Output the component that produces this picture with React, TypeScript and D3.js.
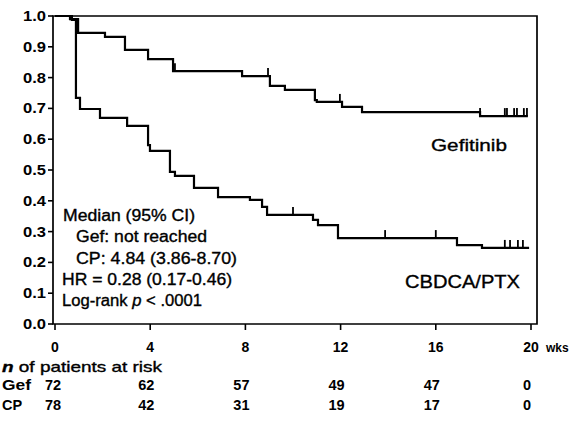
import React from "react";
import * as d3 from "d3";

// ---- data ----
const gefStepTimes = [0.63, 0.97, 2.1, 2.94, 3.91, 4.96, 7.86, 9.03, 9.66, 10.92, 11.0, 12.06, 12.9, 17.86];
const gefStepSurv = [0.99, 0.945, 0.932, 0.89, 0.86, 0.821, 0.805, 0.773, 0.76, 0.727, 0.721, 0.705, 0.688, 0.675];
const gefEnd = 19.87;
const gefCensorTimes = [5.04, 8.95, 11.97, 17.86, 18.9, 18.99, 19.29, 19.41, 19.7, 19.83];

const cpStepTimes = [0.71, 0.88, 1.05, 1.89, 3.03, 3.91, 3.99, 4.83, 5.04, 5.84, 6.85, 8.19, 8.7, 8.91, 10.84, 11.05, 11.89, 16.89, 17.94];
const cpStepSurv = [0.987, 0.734, 0.698, 0.669, 0.643, 0.581, 0.562, 0.494, 0.481, 0.442, 0.412, 0.403, 0.38, 0.354, 0.338, 0.321, 0.279, 0.256, 0.247];
const cpEnd = 19.92;
const cpCensorTimes = [10.0, 13.87, 16.0, 18.9, 19.12, 19.45, 19.66];

const yTicks = [0, 0.1, 0.2, 0.3, 0.4, 0.5, 0.6, 0.7, 0.8, 0.9, 1.0];
const xTicks = [0, 4, 8, 12, 16, 20];
const riskTimes = [0, 4, 8, 12, 16, 20];
const gefRisk = [72, 62, 57, 49, 47, 0];
const cpRisk = [78, 42, 31, 19, 17, 0];

const annotationLines = [
  "Median (95% CI)",
  "Gef: not reached",
  "CP: 4.84 (3.86-8.70)",
  "HR = 0.28 (0.17-0.46)",
];

const FONT = "'Liberation Sans', Arial, sans-serif";

export default function App() {
  const left = 53;
  const right = 537;
  const top = 16;
  const bottom = 324;
  const x = d3.scaleLinear().domain([0, 20]).range([55, 531]);
  const y = d3.scaleLinear().domain([0, 1]).range([bottom, top]);

  const line = d3
    .line<[number, number]>()
    .x((d) => x(d[0]))
    .y((d) => y(d[1]))
    .curve(d3.curveStepAfter);

  const buildPts = (ts: number[], ss: number[], end: number): [number, number][] => {
    const pts: [number, number][] = [[0, 1]];
    ts.forEach((t, i) => pts.push([t, ss[i]]));
    pts.push([end, ss[ss.length - 1]]);
    return pts;
  };
  const survAt = (ts: number[], ss: number[], t: number) => {
    let s = 1;
    ts.forEach((tt, i) => {
      if (tt <= t + 1e-9) s = ss[i];
    });
    return s;
  };

  const gefPts = buildPts(gefStepTimes, gefStepSurv, gefEnd);
  const cpPts = buildPts(cpStepTimes, cpStepSurv, cpEnd);

  const censorTicks = (ts: number[], ss: number[], cs: number[], key: string) =>
    cs.map((t, i) => {
      const s = survAt(ts, ss, t);
      return (
        <line
          key={key + i}
          x1={x(t)}
          x2={x(t)}
          y1={y(s)}
          y2={y(s) - 8}
          stroke="#000"
          strokeWidth={1.8}
        />
      );
    });

  const annBase = 221;
  const annStep = 21.3;
  const annX = [63, 76, 76, 62];
  const annW = [132, 131, 161, 170];
  const ink = { stroke: "#000", strokeWidth: 0.35 };

  return (
    <svg
      width={576}
      height={421}
      style={{ position: "absolute", left: 0, top: 0, background: "#fff" }}
      fontFamily={FONT}
    >
      <rect x={0} y={0} width={576} height={421} fill="#fff" />
      {/* frame */}
      <path
        d={`M${left},${top} L${right},${top} L${right},${bottom} L${left},${bottom} Z`}
        fill="none"
        stroke="#000"
        strokeWidth={1.7}
      />
      {/* y ticks */}
      {yTicks.map((v) => (
        <g key={"y" + v}>
          <line x1={left - 5} x2={left} y1={y(v)} y2={y(v)} stroke="#000" strokeWidth={1.6} />
          <text
            x={46}
            y={y(v) + 5}
            textAnchor="end"
            fontSize={14}
            fontWeight="bold"
            textLength={23}
            lengthAdjust="spacingAndGlyphs"
          >
            {v.toFixed(1)}
          </text>
        </g>
      ))}
      {/* x ticks */}
      {xTicks.map((v) => (
        <g key={"x" + v}>
          <line x1={x(v)} x2={x(v)} y1={bottom} y2={bottom + 6} stroke="#000" strokeWidth={1.6} />
          <text x={x(v)} y={352} textAnchor="middle" fontSize={14} fontWeight="bold">
            {v}
          </text>
        </g>
      ))}
      <text x={546} y={352} fontSize={12} fontWeight="bold">
        wks
      </text>

      {/* curves */}
      <path d={line(gefPts) || ""} fill="none" stroke="#000" strokeWidth={2.2} />
      <path d={line(cpPts) || ""} fill="none" stroke="#000" strokeWidth={2.2} />
      {censorTicks(gefStepTimes, gefStepSurv, gefCensorTimes, "g")}
      {censorTicks(cpStepTimes, cpStepSurv, cpCensorTimes, "c")}

      {/* curve labels */}
      <text x={431} y={151} fontSize={17} textLength={76} lengthAdjust="spacingAndGlyphs" {...ink}>
        Gefitinib
      </text>
      <text x={405} y={288} fontSize={18} textLength={115} lengthAdjust="spacingAndGlyphs" {...ink}>
        CBDCA/PTX
      </text>

      {/* annotation */}
      {annotationLines.map((s, i) => (
        <text
          key={"a" + i}
          x={annX[i]}
          y={annBase + annStep * i}
          fontSize={16}
          textLength={annW[i]}
          lengthAdjust="spacingAndGlyphs"
          {...ink}
        >
          {s}
        </text>
      ))}
      <text x={62} y={annBase + annStep * 4} fontSize={16} textLength={140} lengthAdjust="spacingAndGlyphs" {...ink}>
        Log-rank <tspan fontStyle="italic">p</tspan> &lt; .0001
      </text>

      {/* risk table */}
      <text x={2} y={372} fontSize={15} textLength={160} lengthAdjust="spacingAndGlyphs" {...ink}>
        <tspan fontStyle="italic" fontWeight="bold">n</tspan> of patients at risk
      </text>
      <text x={2} y={390} fontSize={14.5} fontWeight="bold" textLength={29} lengthAdjust="spacingAndGlyphs">Gef</text>
      <text x={2} y={410} fontSize={14.5} fontWeight="bold">CP</text>
      {riskTimes.map((t, i) => (
        <g key={"r" + i}>
          <text
            x={i === 0 ? 53 : x(t) - 4}
            y={390}
            textAnchor="middle"
            fontSize={14.5}
            fontWeight="bold"
          >
            {gefRisk[i]}
          </text>
          <text
            x={i === 0 ? 53 : x(t) - 4}
            y={410}
            textAnchor="middle"
            fontSize={14.5}
            fontWeight="bold"
          >
            {cpRisk[i]}
          </text>
        </g>
      ))}
    </svg>
  );
}
